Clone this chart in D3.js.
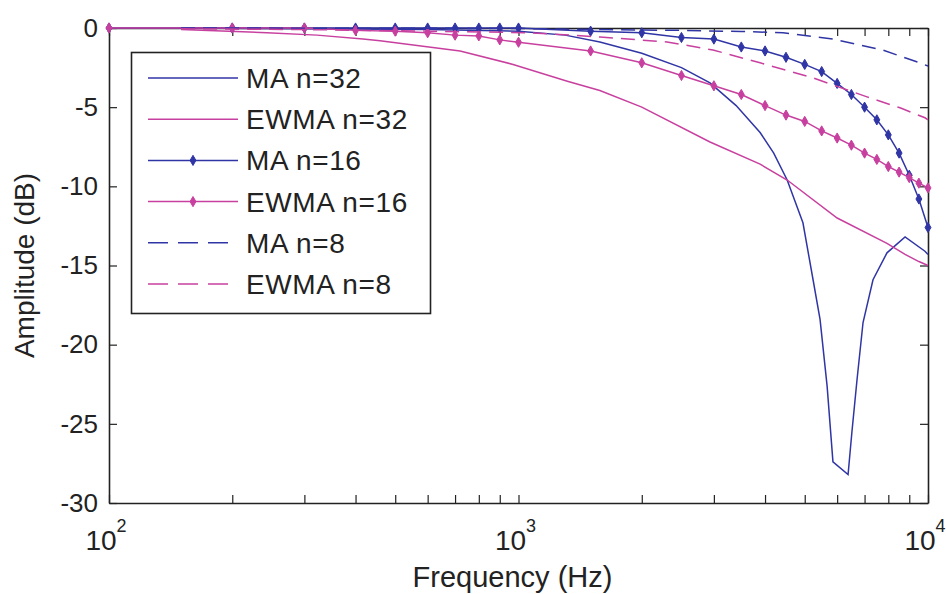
<!DOCTYPE html>
<html>
<head>
<meta charset="utf-8">
<script src="https://cdn.jsdelivr.net/npm/d3@7"></script>
<style>
  html, body { margin: 0; padding: 0; background: #ffffff; }
  svg { display: block; }
  text { font-family: "Liberation Sans", Arial, sans-serif; fill: #222; }
</style>
</head>
<body>
<script>
// ---------------- data ----------------
const markerFreq = [100,200,300,400,500,600,700,800,900,1000,1500,2000,2500,3000,3500,4000,4500,5000,5500,6000,6500,7000,7500,8000,8500,9000,9500,10000];
const ma16   = [0,0,0,0,0,0,0,0,0,0,-0.2,-0.3,-0.6,-0.7,-1.2,-1.45,-1.85,-2.3,-2.75,-3.5,-4.2,-5.0,-5.8,-6.75,-7.9,-9.3,-10.8,-12.6];
const ewma16 = [0,0,0,-0.15,-0.2,-0.3,-0.45,-0.5,-0.75,-0.9,-1.45,-2.2,-3.0,-3.65,-4.2,-4.9,-5.5,-5.9,-6.5,-6.95,-7.4,-7.9,-8.3,-8.75,-9.1,-9.45,-9.8,-10.1];

const ma32Freq = [150,300,600,1000,1300,1580,2000,2500,2935,3400,3890,4200,4530,4950,5240,5450,5670,5860,6380,6520,6710,6940,7340,7940,8790,9830,10000];
const ma32     = [0,-0.05,-0.1,-0.2,-0.45,-0.88,-1.6,-2.5,-3.47,-4.9,-6.6,-7.9,-9.6,-12.3,-15.9,-18.4,-22.6,-27.4,-28.2,-25.5,-22.2,-18.6,-15.9,-14.2,-13.2,-14.1,-14.3];

const ewma32Freq = [150,243,322,417,459,720,970,1316,1580,2000,2935,3890,4530,6000,7940,8790,9500,10000];
const ewma32     = [-0.1,-0.3,-0.45,-0.7,-0.8,-1.45,-2.3,-3.36,-3.95,-5.0,-7.2,-8.6,-9.6,-12.0,-13.6,-14.3,-14.75,-15.0];

const ma8Freq = [150,1000,1581,2500,3500,4426,5862,7770,9545,10000];
const ma8     = [0,-0.03,-0.1,-0.15,-0.22,-0.3,-0.7,-1.4,-2.2,-2.4];

const ewma8Freq = [150,300,600,1067,1336,1581,2305,2985,3890,5236,7096,8545,9833,10000];
const ewma8     = [-0.05,-0.1,-0.2,-0.3,-0.45,-0.57,-0.88,-1.39,-2.2,-3.15,-4.35,-5.04,-5.67,-5.8];

const yTicks = [-30,-25,-20,-15,-10,-5,0];
const xMajor = [100,1000,10000];
const xExp   = ["2","3","4"];
const xMinor = [200,300,400,500,600,700,800,900,2000,3000,4000,5000,6000,7000,8000,9000];

const legendLabels = ["MA n=32","EWMA n=32","MA n=16","EWMA n=16","MA n=8","EWMA n=8"];

// ---------------- setup ----------------
const W = 946, H = 594;
const PL = 109, PR = 928, PT = 28, PB = 503;
const BLUE = "#3035a5", MAG = "#c8409f";

const svg = d3.select("body").append("svg").attr("width", W).attr("height", H);
const x = d3.scaleLog().domain([100, 10000]).range([PL, PR]);
const y = d3.scaleLinear().domain([-30, 0]).range([PB, PT]);

// axes (ticks inward, box on)
const axG = svg.append("g");
axG.append("g").attr("transform", `translate(0,${PB})`)
  .call(d3.axisBottom(x).tickValues(xMajor.concat(xMinor)).tickSize(-8).tickSizeOuter(0).tickFormat(""));
axG.append("g").attr("transform", `translate(0,${PT})`)
  .call(d3.axisTop(x).tickValues(xMajor.concat(xMinor)).tickSize(-8).tickSizeOuter(0).tickFormat(""));
const axLeft = axG.append("g").attr("transform", `translate(${PL},0)`)
  .call(d3.axisLeft(y).tickValues(yTicks).tickSize(-8).tickSizeOuter(0).tickFormat(d => String(d)));
axG.append("g").attr("transform", `translate(${PR},0)`)
  .call(d3.axisRight(y).tickValues(yTicks).tickSize(-8).tickSizeOuter(0).tickFormat(""));
axG.selectAll(".domain").attr("stroke", "#222").attr("stroke-width", 1.6);
axG.selectAll(".tick line").attr("stroke", "#222").attr("stroke-width", 1.2);
axLeft.selectAll(".tick text").attr("font-size", 26).attr("font-family", "Liberation Sans, Arial, sans-serif")
  .attr("fill", "#222").attr("x", -11);

// log axis labels 10^k
const xl = svg.append("g");
xMajor.forEach((v, i) => {
  const t = xl.append("text").attr("x", x(v) - 3).attr("y", 550).attr("text-anchor", "middle").attr("font-size", 28);
  t.append("tspan").text("10");
  t.append("tspan").attr("dy", -18).attr("font-size", 18).text(xExp[i]);
});

svg.append("text").attr("x", (PL + PR) / 2 - 6).attr("y", 587).attr("text-anchor", "middle")
  .attr("font-size", 29).text("Frequency (Hz)");
svg.append("text").attr("transform", `translate(34,${(PT + PB) / 2}) rotate(-90)`).attr("text-anchor", "middle")
  .attr("font-size", 28).text("Amplitude (dB)");

// ---------------- series ----------------
const line = d3.line().x(d => x(d[0])).y(d => y(d[1]));
const series = [
  { f: ma32Freq,   v: ma32,   color: BLUE, dash: null,   marker: false },
  { f: ewma32Freq, v: ewma32, color: MAG,  dash: null,   marker: false },
  { f: markerFreq, v: ma16,   color: BLUE, dash: null,   marker: true },
  { f: markerFreq, v: ewma16, color: MAG,  dash: null,   marker: true },
  { f: ma8Freq,    v: ma8,    color: BLUE, dash: "14,8", marker: false },
  { f: ewma8Freq,  v: ewma8,  color: MAG,  dash: "14,8", marker: false }
];
const diamond = d3.symbol().type(d3.symbolDiamond).size(30);
const plotG = svg.append("g");
series.forEach(s => {
  const pts = s.f.map((f, i) => [f, s.v[i]]);
  plotG.append("path").datum(pts).attr("d", line).attr("fill", "none")
    .attr("stroke", s.color).attr("stroke-width", 1.5)
    .attr("stroke-dasharray", s.dash);
  if (s.marker) {
    plotG.selectAll(null).data(pts).enter().append("path")
      .attr("d", diamond)
      .attr("transform", d => `translate(${x(d[0])},${y(d[1])})`)
      .attr("fill", s.color).attr("stroke", s.color).attr("stroke-width", 1);
  }
});

// ---------------- legend ----------------
const lg = svg.append("g");
lg.append("rect").attr("x", 131.5).attr("y", 52.5).attr("width", 299).attr("height", 261)
  .attr("fill", "#fff").attr("stroke", "#222").attr("stroke-width", 1.6);
series.forEach((s, i) => {
  const yy = 78 + i * 41.2;
  lg.append("line").attr("x1", 148).attr("x2", 238).attr("y1", yy).attr("y2", yy)
    .attr("stroke", s.color).attr("stroke-width", 1.5).attr("stroke-dasharray", s.dash ? "20,10" : null);
  if (s.marker) {
    lg.append("path").attr("d", diamond).attr("transform", `translate(193,${yy})`)
      .attr("fill", s.color).attr("stroke", s.color);
  }
  lg.append("text").attr("x", 246).attr("y", yy).attr("dy", "0.36em").attr("font-size", 28)
    .attr("letter-spacing", 0.6).text(legendLabels[i]);
});
</script>
</body>
</html>
